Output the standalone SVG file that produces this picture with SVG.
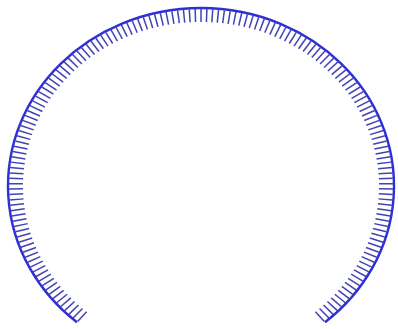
<svg xmlns="http://www.w3.org/2000/svg" xmlns:xlink="http://www.w3.org/1999/xlink" width="398" height="329" viewBox="0 0 398 329">
<style>
.arc{fill:none;stroke:#2f2fd6;stroke-width:2.4;vector-effect:non-scaling-stroke}
.tk{stroke:#4242b4;stroke-width:1.5;vector-effect:non-scaling-stroke}
</style>
<defs>
<line id="t" class="tk" x1="0" y1="-192" x2="0" y2="-178"/>
<g id="t7">
<use xlink:href="#t"/>
<use xlink:href="#t" transform="rotate(1.75)"/>
<use xlink:href="#t" transform="rotate(3.5)"/>
<use xlink:href="#t" transform="rotate(5.25)"/>
<use xlink:href="#t" transform="rotate(7)"/>
<use xlink:href="#t" transform="rotate(8.75)"/>
<use xlink:href="#t" transform="rotate(10.5)"/>
</g>
</defs>
<rect width="398" height="329" fill="#fff"/>
<g id="gauge" transform="translate(201,186) scale(1,0.922)">
<path class="arc" d="M-124.06,147.85 A193,193 0 1 1 124.06,147.85"/>
<g id="ticks">
<use xlink:href="#t7" transform="rotate(-140)"/>
<use xlink:href="#t7" transform="rotate(-127.75)"/>
<use xlink:href="#t7" transform="rotate(-115.5)"/>
<use xlink:href="#t7" transform="rotate(-103.25)"/>
<use xlink:href="#t7" transform="rotate(-91)"/>
<use xlink:href="#t7" transform="rotate(-78.75)"/>
<use xlink:href="#t7" transform="rotate(-66.5)"/>
<use xlink:href="#t7" transform="rotate(-54.25)"/>
<use xlink:href="#t7" transform="rotate(-42)"/>
<use xlink:href="#t7" transform="rotate(-29.75)"/>
<use xlink:href="#t7" transform="rotate(-17.5)"/>
<use xlink:href="#t7" transform="rotate(-5.25)"/>
<use xlink:href="#t7" transform="rotate(7)"/>
<use xlink:href="#t7" transform="rotate(19.25)"/>
<use xlink:href="#t7" transform="rotate(31.5)"/>
<use xlink:href="#t7" transform="rotate(43.75)"/>
<use xlink:href="#t7" transform="rotate(56)"/>
<use xlink:href="#t7" transform="rotate(68.25)"/>
<use xlink:href="#t7" transform="rotate(80.5)"/>
<use xlink:href="#t7" transform="rotate(92.75)"/>
<use xlink:href="#t7" transform="rotate(105)"/>
<use xlink:href="#t7" transform="rotate(117.25)"/>
<use xlink:href="#t7" transform="rotate(129.5)"/>
</g>
</g>
</svg>
